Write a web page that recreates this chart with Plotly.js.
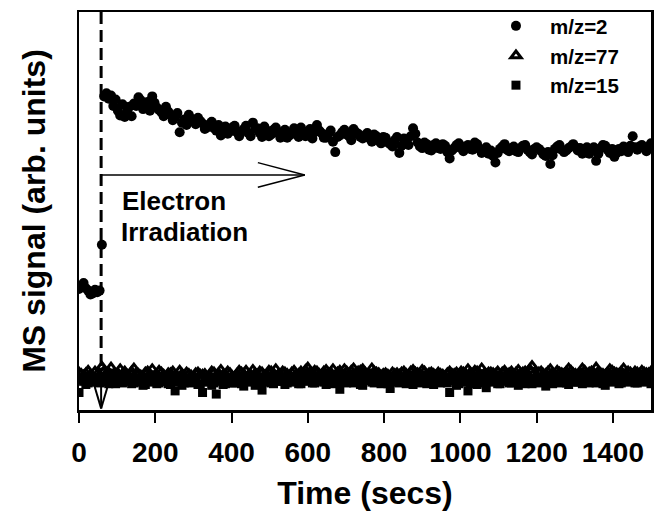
<!DOCTYPE html>
<html>
<head>
<meta charset="utf-8">
<script src="https://cdn.plot.ly/plotly-3.0.1.min.js"></script>
<style>html,body{margin:0;padding:0;background:#fff;}#chart{width:654px;height:517px;}</style>
</head>
<body>
<div id="chart"></div>
<script>
// ---- data (time in seconds, MS signal in arbitrary units) ----
const timeSecs = [
  0,6,12,18,24,30,36,42,48,54,
  60,66,72,78,84,90,96,102,108,114,
  120,126,132,138,144,150,156,162,168,174,
  180,186,192,198,204,210,216,222,228,234,
  240,246,252,258,264,270,276,282,288,294,
  300,306,312,318,324,330,336,342,348,354,
  360,366,372,378,384,390,396,402,408,414,
  420,426,432,438,444,450,456,462,468,474,
  480,486,492,498,504,510,516,522,528,534,
  540,546,552,558,564,570,576,582,588,594,
  600,606,612,618,624,630,636,642,648,654,
  660,666,672,678,684,690,696,702,708,714,
  720,726,732,738,744,750,756,762,768,774,
  780,786,792,798,804,810,816,822,828,834,
  840,846,852,858,864,870,876,882,888,894,
  900,906,912,918,924,930,936,942,948,954,
  960,966,972,978,984,990,996,1002,1008,1014,
  1020,1026,1032,1038,1044,1050,1056,1062,1068,1074,
  1080,1086,1092,1098,1104,1110,1116,1122,1128,1134,
  1140,1146,1152,1158,1164,1170,1176,1182,1188,1194,
  1200,1206,1212,1218,1224,1230,1236,1242,1248,1254,
  1260,1266,1272,1278,1284,1290,1296,1302,1308,1314,
  1320,1326,1332,1338,1344,1350,1356,1362,1368,1374,
  1380,1386,1392,1398,1404,1410,1416,1422,1428,1434,
  1440,1446,1452,1458,1464,1470,1476,1482,1488,1494,
  1500
];
const mz2 = [
  30.4,31.0,31.9,30.6,30.0,29.0,29.3,30.2,29.6,30.0,
  41.5,78.8,79.6,78.2,79.0,76.4,78.0,75.2,74.0,76.8,
  73.6,75.0,76.2,73.8,77.0,76.4,78.6,77.8,75.6,76.6,
  77.4,75.2,78.8,77.2,76.0,75.4,74.8,73.8,76.2,75.0,
  74.2,72.8,73.6,74.6,69.8,72.2,73.0,71.6,74.2,73.2,
  72.6,71.8,73.4,72.6,72.0,70.6,71.0,71.8,72.4,70.8,
  70.2,71.6,69.0,70.4,71.2,69.4,70.0,71.0,71.4,69.8,
  68.8,70.0,70.6,71.4,69.6,68.8,72.2,70.6,70.8,69.6,
  68.6,71.2,70.2,68.8,69.2,70.4,71.0,69.6,68.4,69.8,
  70.4,68.4,69.0,69.8,70.8,69.2,68.6,71.0,70.0,68.8,
  69.4,70.6,68.2,69.8,71.6,70.2,69.6,68.4,68.4,69.4,
  70.2,67.4,64.8,68.6,69.0,69.8,70.4,69.2,68.8,67.8,
  70.6,69.8,69.4,68.6,68.2,69.0,69.6,68.2,67.4,69.2,
  68.8,67.6,67.0,68.6,68.4,67.2,66.8,66.2,67.8,68.6,
  64.6,66.4,68.2,67.6,66.6,68.8,70.8,69.4,67.2,66.2,
  65.8,67.2,66.8,65.4,65.2,66.6,67.0,65.8,65.6,66.8,
  66.4,64.8,63.2,65.2,65.8,66.6,67.0,65.8,65.0,66.2,
  66.6,65.6,65.4,67.2,66.8,65.6,64.6,65.2,66.0,64.4,
  65.2,63.8,62.2,64.6,65.6,66.2,66.8,65.4,65.0,65.8,
  66.2,65.0,64.8,65.8,66.4,66.6,65.4,64.8,64.2,65.6,
  66.0,65.6,65.0,64.2,63.8,64.8,61.8,64.0,65.6,66.2,
  66.6,65.4,64.8,65.2,65.8,66.2,66.8,66.0,65.2,65.8,
  64.4,65.2,66.0,64.4,65.4,66.0,62.6,64.4,65.8,66.6,
  66.4,65.4,64.6,65.6,63.6,64.6,65.6,65.0,66.2,65.8,
  64.8,66.4,68.8,66.0,65.4,66.2,66.6,65.8,65.0,66.2,
  67.0
];
const mz77 = [
  9.4,9.0,8.6,9.2,9.8,8.8,8.2,9.6,9.0,8.4,
  10.8,9.8,9.2,9.4,10.6,8.6,8.8,9.2,10.2,9.0,
  9.6,8.8,8.4,9.6,10.4,9.2,9.0,8.6,8.2,9.4,
  9.6,9.0,10.2,8.4,8.8,9.8,9.4,8.8,8.0,9.2,
  9.2,9.6,8.6,8.4,9.8,9.0,8.4,9.4,9.0,8.6,
  8.2,9.2,9.4,8.8,8.8,9.0,7.6,8.6,9.6,9.4,
  8.4,9.2,10.0,8.8,8.6,9.6,9.2,8.4,8.0,9.0,
  9.8,9.4,9.0,9.8,8.6,8.8,10.0,9.2,8.8,9.6,
  9.4,8.6,8.2,9.8,9.6,9.2,10.2,8.8,8.8,9.6,
  9.4,9.0,8.4,9.4,9.8,8.8,9.0,9.6,8.6,10.0,
  10.6,9.4,9.2,9.8,9.6,9.0,8.8,9.6,10.0,9.2,
  9.4,10.2,8.6,9.4,9.8,9.0,10.2,9.6,9.0,9.8,
  10.4,9.2,9.6,9.8,10.2,9.4,8.8,9.0,10.4,9.6,
  9.4,9.2,8.6,9.0,9.2,8.8,8.4,9.4,9.0,9.2,
  8.8,9.4,9.6,9.0,8.6,9.6,10.0,9.4,9.2,8.8,
  10.0,9.6,8.8,9.2,9.4,9.0,8.6,9.4,9.0,8.8,
  8.4,9.2,9.6,9.0,9.0,9.4,8.8,9.6,9.4,9.0,
  10.2,9.4,9.0,9.8,9.6,9.2,10.4,9.0,8.8,9.4,
  9.4,9.2,9.0,9.6,8.6,9.4,9.8,9.0,9.2,9.6,
  8.8,9.4,10.0,9.2,9.4,9.6,9.0,10.2,11.0,9.2,
  8.6,9.4,9.6,9.0,9.0,9.6,10.2,9.2,8.8,9.8,
  9.4,9.2,9.0,9.6,10.4,9.8,9.2,9.0,8.6,9.4,
  10.4,9.8,9.0,9.4,9.6,9.2,10.6,9.6,9.2,9.0,
  8.8,9.4,10.2,9.8,9.4,9.2,9.0,9.6,10.4,9.2,
  9.6,9.4,8.8,9.6,9.4,9.0,9.8,9.4,9.2,9.2,
  9.6
];
const mz15 = [
  4.4,7.6,7.2,6.4,6.8,7.8,8.0,7.0,7.4,6.8,
  7.0,7.4,8.4,6.6,7.6,7.2,6.6,8.0,7.8,6.8,
  7.2,7.4,8.2,6.6,6.8,7.8,7.4,7.0,6.2,6.4,
  7.8,7.6,7.0,8.0,6.6,6.8,8.0,7.2,7.2,6.6,
  6.4,7.8,4.8,7.0,7.6,6.2,6.8,7.4,7.2,6.8,
  8.2,7.6,6.4,6.6,4.4,7.2,7.0,7.8,6.2,6.8,
  4.0,7.2,7.4,6.4,6.6,7.6,7.8,6.8,6.8,7.4,
  7.2,6.6,6.0,7.8,7.6,7.0,8.0,6.2,6.6,7.4,
  5.0,7.0,7.4,7.6,6.8,6.6,7.8,8.0,7.2,7.2,
  6.4,6.8,8.0,7.4,7.0,7.8,6.6,6.6,7.6,7.2,
  8.4,7.6,6.8,6.8,7.2,8.2,9.0,7.0,6.4,7.4,
  7.6,6.6,7.0,7.8,5.2,7.2,7.4,6.8,8.2,7.6,
  6.8,7.0,7.6,6.4,6.2,7.4,7.8,8.0,7.0,6.8,
  8.4,7.2,6.6,7.6,7.2,6.6,5.4,7.0,7.6,7.8,
  6.8,7.2,8.0,6.6,7.4,7.6,6.4,7.0,7.8,6.8,
  7.0,7.4,6.6,7.8,7.6,6.4,8.2,7.2,6.8,7.6,
  7.2,6.8,4.4,7.4,7.4,6.2,6.6,7.6,7.8,7.0,
  4.8,6.6,7.2,7.8,6.4,7.0,7.6,6.8,5.6,7.4,
  7.0,7.6,8.0,6.6,6.6,7.2,7.4,7.8,6.8,6.8,
  7.8,7.0,6.2,7.4,7.2,6.6,8.2,7.6,6.6,7.2,
  7.4,6.8,7.0,7.6,6.0,7.2,7.6,6.6,8.0,7.4,
  6.8,7.8,7.2,6.8,6.4,7.2,7.8,7.0,7.0,7.6,
  6.6,7.0,7.6,6.8,8.2,7.4,6.8,7.8,7.4,6.6,
  6.2,7.2,7.8,7.0,7.2,7.6,6.6,6.8,8.0,7.4,
  7.0,7.2,7.4,6.8,6.8,7.6,7.6,7.0,7.2,7.4,
  6.6
];
const seriesNames = ["m/z=2", "m/z=77", "m/z=15"];
const xTickVals = [0,200,400,600,800,1000,1200,1400];
const xTickText = ["0","200","400","600","800","1000","1200","1400"];

// annotation geometry (data units)
const irradStart = 58;
const arrowTip = 592, arrowBack = 469, arrowY = 59.05, arrowHalf = 3.1;

const FONT = "Liberation Sans, Arial, Helvetica, sans-serif";

const traces = [
  {x: timeSecs, y: mz2, name: seriesNames[0], type: "scatter", mode: "markers", legendgroup: "a",
   marker: {symbol: "circle", size: 10, color: "#000"}},
  {x: timeSecs, y: mz77, name: seriesNames[1], type: "scatter", mode: "markers", legendgroup: "b",
   marker: {symbol: "triangle-up-open", size: 9, color: "#000", line: {width: 3, color: "#000"}}},
  {x: timeSecs, y: mz15, name: seriesNames[2], type: "scatter", mode: "markers", legendgroup: "c",
   marker: {symbol: "square", size: 9, color: "#000"}}
];

const blk = {color: "#000", width: 2};
const shapes = [
  {type: "line", xref: "x", yref: "y", x0: irradStart, x1: irradStart, y0: 100, y1: 6,
   line: {color: "#000", width: 3, dash: "12px,6px"}},
  {type: "line", xref: "x", yref: "y", x0: irradStart, x1: irradStart, y0: 7, y1: 0.4, line: blk},
  {type: "line", xref: "x", yref: "y", x0: irradStart - 18, x1: irradStart, y0: 6.2, y1: 0.4, line: blk},
  {type: "line", xref: "x", yref: "y", x0: irradStart + 18, x1: irradStart, y0: 6.2, y1: 0.4, line: blk},
  {type: "line", xref: "x", yref: "y", x0: irradStart, x1: arrowTip, y0: arrowY, y1: arrowY, line: {color: "#000", width: 1.5}},
  {type: "line", xref: "x", yref: "y", x0: arrowBack, x1: arrowTip, y0: arrowY + arrowHalf, y1: arrowY, line: {color: "#000", width: 1.5}},
  {type: "line", xref: "x", yref: "y", x0: arrowBack, x1: arrowTip, y0: arrowY - arrowHalf, y1: arrowY, line: {color: "#000", width: 1.5}}
];

const layout = {
  width: 654, height: 517,
  margin: {l: 79, r: 3, t: 12, b: 107},
  paper_bgcolor: "#fff", plot_bgcolor: "#fff",
  font: {family: FONT, color: "#000"},
  showlegend: true,
  legend: {x: 0.7045, y: 1.015, xanchor: "left", yanchor: "top", traceorder: "grouped",
           font: {family: FONT, size: 20.5, weight: "bold", color: "#000"},
           bgcolor: "rgba(0,0,0,0)", borderwidth: 0, itemwidth: 58, tracegroupgap: 0},
  xaxis: {range: [0, 1500], tickvals: xTickVals, ticktext: xTickText,
          ticks: "outside", ticklen: 10, tickwidth: 2, tickcolor: "#000", ticklabelstandoff: 6,
          showline: true, linewidth: 2.5, linecolor: "#000", mirror: true,
          showgrid: false, zeroline: false,
          tickfont: {family: FONT, size: 28, weight: "bold"},
          title: {text: "Time (secs)", font: {family: FONT, size: 32, weight: "bold"}, standoff: 15}},
  yaxis: {range: [0, 100], showticklabels: false, ticks: "",
          showline: true, linewidth: 2.5, linecolor: "#000", mirror: true,
          showgrid: false, zeroline: false,
          title: {text: "MS signal (arb. units)", font: {family: FONT, size: 32, weight: "bold"}, standoff: 22}},
  shapes: shapes,
  annotations: [
    {xref: "x", yref: "y", x: 108, y: 52.6, xanchor: "left", yanchor: "middle", align: "left",
     showarrow: false, text: "Electron",
     font: {family: FONT, size: 26, weight: "bold", color: "#000"}},
    {xref: "x", yref: "y", x: 104, y: 44.6, xanchor: "left", yanchor: "middle", align: "left",
     showarrow: false, text: "Irradiation",
     font: {family: FONT, size: 26, weight: "bold", color: "#000"}}
  ]
};

Plotly.newPlot("chart", traces, layout, {staticPlot: true, displayModeBar: false});
</script>
</body>
</html>
